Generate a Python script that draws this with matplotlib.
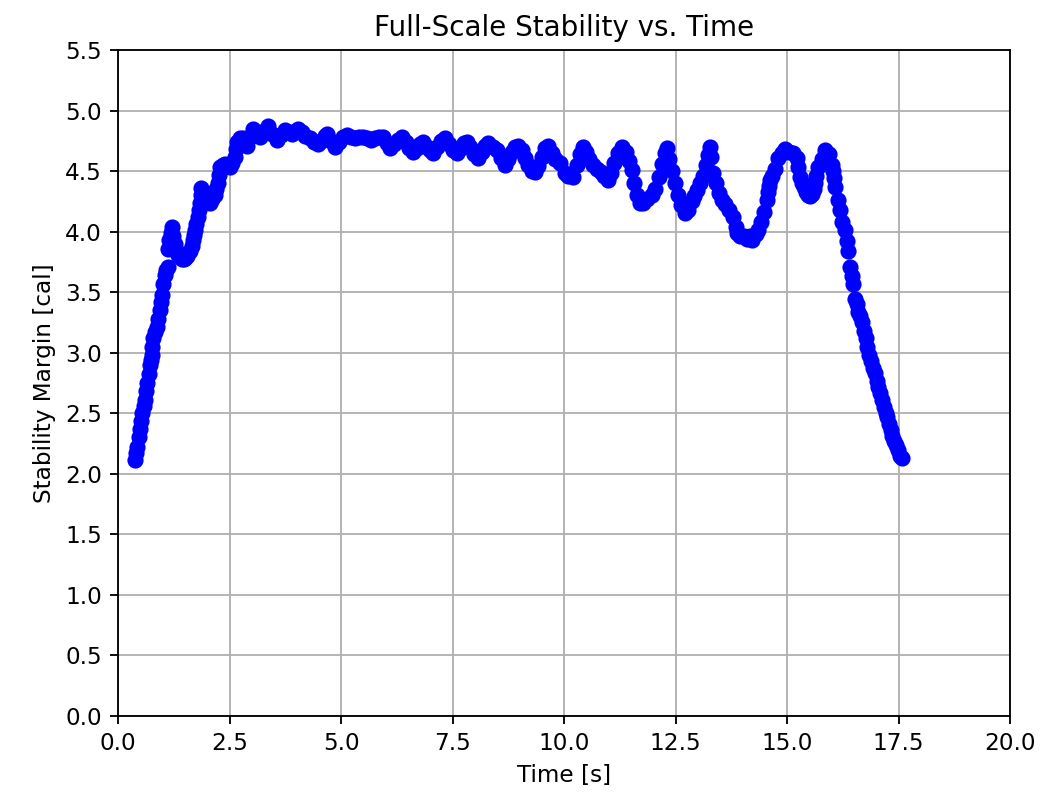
import matplotlib
matplotlib.use("Agg")
import matplotlib.pyplot as plt

# values
time_s = [
    0.38, 0.41, 0.43, 0.46, 0.49, 0.52, 0.54, 0.58, 0.61, 0.63, 0.65, 0.69, 0.72, 0.74, 0.76, 0.77,
    0.79, 0.83, 0.87, 0.90, 0.94, 0.97, 0.99, 1.01, 1.05, 1.08, 1.12, 1.12, 1.15, 1.18, 1.21,
    1.24, 1.28, 1.31, 1.35, 1.39, 1.43, 1.47, 1.50, 1.54, 1.57, 1.61, 1.65, 1.68, 1.71, 1.73,
    1.76, 1.79, 1.82, 1.84, 1.85, 1.86, 1.90, 1.95, 2.00, 2.06, 2.11, 2.17, 2.20, 2.24, 2.27, 2.29,
    2.35, 2.40, 2.45, 2.51, 2.56, 2.62, 2.65,
    2.67, 2.73, 2.80, 2.85, 2.89, 2.96, 3.03, 3.10, 3.18, 3.27, 3.36, 3.46, 3.57, 3.65, 3.74,
    3.82, 3.90, 3.97, 4.04, 4.12, 4.20, 4.30, 4.40, 4.48, 4.56, 4.63, 4.69, 4.78, 4.87, 4.95,
    5.04, 5.13, 5.22, 5.31, 5.40, 5.49, 5.58, 5.67, 5.76, 5.85, 5.94, 6.02, 6.10, 6.18, 6.27,
    6.37, 6.45, 6.53, 6.61, 6.70, 6.77, 6.84, 6.92, 6.99, 7.06, 7.15, 7.24, 7.33, 7.42, 7.51,
    7.60, 7.68, 7.76, 7.83, 7.90, 7.98, 8.07, 8.15, 8.22, 8.30, 8.40, 8.50, 8.59, 8.68, 8.75,
    8.83, 8.90, 8.97, 9.05, 9.12, 9.20, 9.28, 9.35, 9.42, 9.50, 9.57, 9.64, 9.72, 9.80, 9.91,
    10.02, 10.10, 10.20, 10.28, 10.35, 10.43, 10.50, 10.57, 10.65, 10.73, 10.82, 10.90, 10.99,
    11.05, 11.12, 11.20, 11.30, 11.38, 11.45, 11.52, 11.58, 11.64, 11.70, 11.78, 11.87, 11.97,
    12.04, 12.12, 12.20, 12.27, 12.31, 12.36, 12.42, 12.49, 12.56, 12.63, 12.71, 12.78, 12.86,
    12.92, 12.98, 13.05, 13.12, 13.18, 13.23, 13.27, 13.30, 13.34, 13.40, 13.47, 13.54, 13.61,
    13.70, 13.79, 13.85, 13.88, 13.95, 14.03, 14.10, 14.17, 14.22, 14.30, 14.35, 14.42, 14.48,
    14.55, 14.58, 14.60, 14.62, 14.66, 14.73, 14.80, 14.89, 14.96, 15.05, 15.13, 15.22, 15.25,
    15.29, 15.33, 15.38, 15.42, 15.47, 15.51,
    15.56, 15.60, 15.63, 15.66, 15.70, 15.78, 15.85, 15.93, 16.00, 16.04, 16.06, 16.08, 16.14,
    16.19, 16.24, 16.30,
    16.34, 16.37, 16.41, 16.45, 16.48, 16.52, 16.56, 16.60, 16.64, 16.68, 16.72, 16.76, 16.80,
    16.84, 16.88, 16.93, 16.97, 17.01, 17.05, 17.09, 17.13, 17.17, 17.21, 17.24, 17.28, 17.32,
    17.36, 17.40, 17.44, 17.48, 17.53, 17.58,
]
margin_cal = [
    2.11, 2.17, 2.22, 2.30, 2.37, 2.44, 2.50, 2.56, 2.61, 2.68, 2.75, 2.82, 2.90, 2.94, 2.98, 3.05,
    3.12, 3.17, 3.21, 3.28, 3.35, 3.42, 3.48, 3.57, 3.64, 3.68, 3.71, 3.86, 3.93, 3.99, 4.04,
    3.96, 3.90, 3.85, 3.81, 3.79, 3.77, 3.77, 3.78, 3.80, 3.82, 3.84, 3.88, 3.93, 3.97, 4.01,
    4.06, 4.12, 4.18, 4.24, 4.30, 4.36, 4.33, 4.29, 4.26, 4.24, 4.27, 4.30, 4.35, 4.40, 4.47, 4.53,
    4.55, 4.56, 4.55, 4.53, 4.57, 4.62, 4.68,
    4.74, 4.77, 4.77, 4.73, 4.71, 4.78, 4.85, 4.82, 4.78, 4.83, 4.87, 4.81, 4.76, 4.80, 4.84,
    4.82, 4.81, 4.83, 4.85, 4.82, 4.79, 4.77, 4.74, 4.72, 4.75, 4.79, 4.81, 4.75, 4.70, 4.74,
    4.78, 4.80, 4.78, 4.77, 4.78, 4.78, 4.77, 4.76, 4.77, 4.78, 4.78, 4.73, 4.69, 4.72, 4.76,
    4.78, 4.74, 4.69, 4.66, 4.69, 4.72, 4.74, 4.70, 4.67, 4.65, 4.70, 4.75, 4.77, 4.72, 4.67,
    4.65, 4.69, 4.73, 4.74, 4.70, 4.64, 4.61, 4.66, 4.71, 4.73, 4.70, 4.67, 4.61, 4.55, 4.60,
    4.66, 4.70, 4.71, 4.67, 4.61, 4.55, 4.50, 4.49, 4.54, 4.62, 4.69, 4.71, 4.65, 4.60, 4.57,
    4.48, 4.46, 4.45, 4.55, 4.64, 4.70, 4.66, 4.60, 4.55, 4.52, 4.49, 4.46, 4.43,
    4.48, 4.57, 4.65, 4.70, 4.66, 4.58, 4.51, 4.40, 4.30, 4.24, 4.24, 4.27, 4.30,
    4.35, 4.45, 4.56, 4.65, 4.69, 4.60, 4.50, 4.40, 4.30, 4.22, 4.15, 4.18, 4.25,
    4.29, 4.34, 4.40, 4.46, 4.55, 4.63, 4.70, 4.62, 4.48, 4.40, 4.32, 4.26, 4.23,
    4.18, 4.12, 4.04, 3.99, 3.96, 3.96, 3.94, 3.96, 3.93, 3.98, 4.01, 4.08, 4.16,
    4.26, 4.33, 4.38, 4.43, 4.46, 4.52, 4.61, 4.65, 4.68, 4.66, 4.65, 4.61, 4.53,
    4.45, 4.40, 4.37, 4.33, 4.30, 4.29,
    4.31, 4.35, 4.40, 4.46, 4.53, 4.60, 4.67, 4.64, 4.55, 4.50, 4.44, 4.37, 4.26,
    4.18, 4.08, 4.01,
    3.92, 3.84, 3.71, 3.63, 3.57, 3.44, 3.40, 3.34, 3.30, 3.25, 3.18, 3.12, 3.05,
    2.98, 2.93, 2.87, 2.83, 2.77, 2.72, 2.67, 2.61, 2.55, 2.50, 2.47, 2.41, 2.36,
    2.31, 2.27, 2.24, 2.20, 2.15, 2.13,
]

fig = plt.figure(figsize=(6.4, 4.764), dpi=166.25)
ax = fig.add_axes([0.1109, 0.0960, 0.8384, 0.8409])

ax.plot(time_s, margin_cal, 'bo')

ax.set_xlim(0, 20)
ax.set_ylim(0, 5.5)
ax.set_xticks([0, 2.5, 5, 7.5, 10, 12.5, 15, 17.5, 20])
ax.set_yticks([0.5 * i for i in range(12)])
ax.grid(True)
ax.set_axisbelow(True)

ax.set_title('Full-Scale Stability vs. Time')
ax.set_xlabel('Time [s]')
ax.set_ylabel('Stability Margin [cal]')

fig.savefig('out.png', dpi=166.25)
